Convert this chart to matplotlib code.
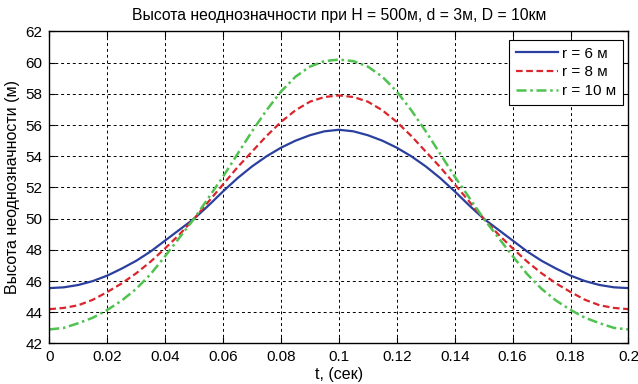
import matplotlib
matplotlib.use("Agg")
import matplotlib.pyplot as plt
from matplotlib import font_manager

names = {f.name for f in font_manager.fontManager.ttflist}
fam = ['Liberation Sans Narrow', 'Liberation Sans', 'DejaVu Sans']
fam = [f for f in fam if f in names] or ['DejaVu Sans']
plt.rcParams['font.family'] = fam

t = [0.000, 0.005, 0.010, 0.015, 0.020, 0.025, 0.030, 0.035, 0.040, 0.045,
     0.050, 0.055, 0.060, 0.065, 0.070, 0.075, 0.080, 0.085, 0.090, 0.095,
     0.100, 0.105, 0.110, 0.115, 0.120, 0.125, 0.130, 0.135, 0.140, 0.145,
     0.150, 0.155, 0.160, 0.165, 0.170, 0.175, 0.180, 0.185, 0.190, 0.195, 0.200]

r6_half = [45.55, 45.6, 45.75, 46.0, 46.35, 46.8, 47.3, 47.9, 48.6, 49.3,
           50.0, 50.85, 51.75, 52.6, 53.35, 54.0, 54.55, 55.0, 55.35, 55.6, 55.7]
r8_half = [44.2, 44.28, 44.45, 44.8, 45.3, 45.85, 46.5, 47.25, 48.1, 49.0,
           50.0, 51.1, 52.2, 53.3, 54.3, 55.3, 56.2, 56.95, 57.5, 57.8, 57.9]
r10_half = [42.9, 43.0, 43.3, 43.65, 44.15, 44.75, 45.5, 46.45, 47.6, 48.8,
            50.0, 51.35, 52.7, 54.15, 55.6, 56.95, 58.15, 59.1, 59.75, 60.1, 60.2]
r6 = r6_half + r6_half[-2::-1]
r8 = r8_half + r8_half[-2::-1]
r10 = r10_half + r10_half[-2::-1]

labels = ['r = 6 м', 'r = 8 м', 'r = 10 м']
xticks = [0, 0.02, 0.04, 0.06, 0.08, 0.1, 0.12, 0.14, 0.16, 0.18, 0.2]
xticklabels = ['0', '0.02', '0.04', '0.06', '0.08', '0.1', '0.12', '0.14', '0.16', '0.18', '0.2']
yticks = [42, 44, 46, 48, 50, 52, 54, 56, 58, 60, 62]

fig = plt.figure(figsize=(6.38, 3.84), dpi=100)
ax = fig.add_axes([0.0773, 0.1055, 0.9078, 0.8125])

ax.plot(t, r6, color='#2a3f9e', lw=1.6, ls='-', label=labels[0])
ax.plot(t, r8, color='#d9252b', lw=1.6, ls=(0, (3, 1.6)), label=labels[1])
ax.plot(t, r10, color='#4fc24f', lw=1.8, ls=(0, (4, 1.5, 1, 1.5)), label=labels[2])

ax.set_xlim(0, 0.2)
ax.set_ylim(42, 62)
ax.set_xticks(xticks)
ax.set_xticklabels(xticklabels)
ax.set_yticks(yticks)
ax.grid(True, color='black', ls=(0, (3, 3)), lw=0.7)
ax.tick_params(direction='in', labelsize=11, length=4, top=True, right=True, pad=5)
for s in ax.spines.values():
    s.set_linewidth(1.0)

ax.set_title('Высота неоднозначности при H = 500м, d = 3м, D = 10км', fontsize=11.3, pad=8)
ax.set_xlabel('t, (сек)', fontsize=11.5, labelpad=2)
ax.set_ylabel('Высота неоднозначности (м)', fontsize=11.5, labelpad=4)

leg = ax.legend(loc='upper right', bbox_to_anchor=(0.991, 0.973), fontsize=11,
                frameon=True, fancybox=False, edgecolor='black', framealpha=1,
                borderpad=0.45, handlelength=2.8, handletextpad=0.25,
                labelspacing=0.3, borderaxespad=0)
leg.get_frame().set_linewidth(0.8)

fig.savefig('out.png', dpi=100)
